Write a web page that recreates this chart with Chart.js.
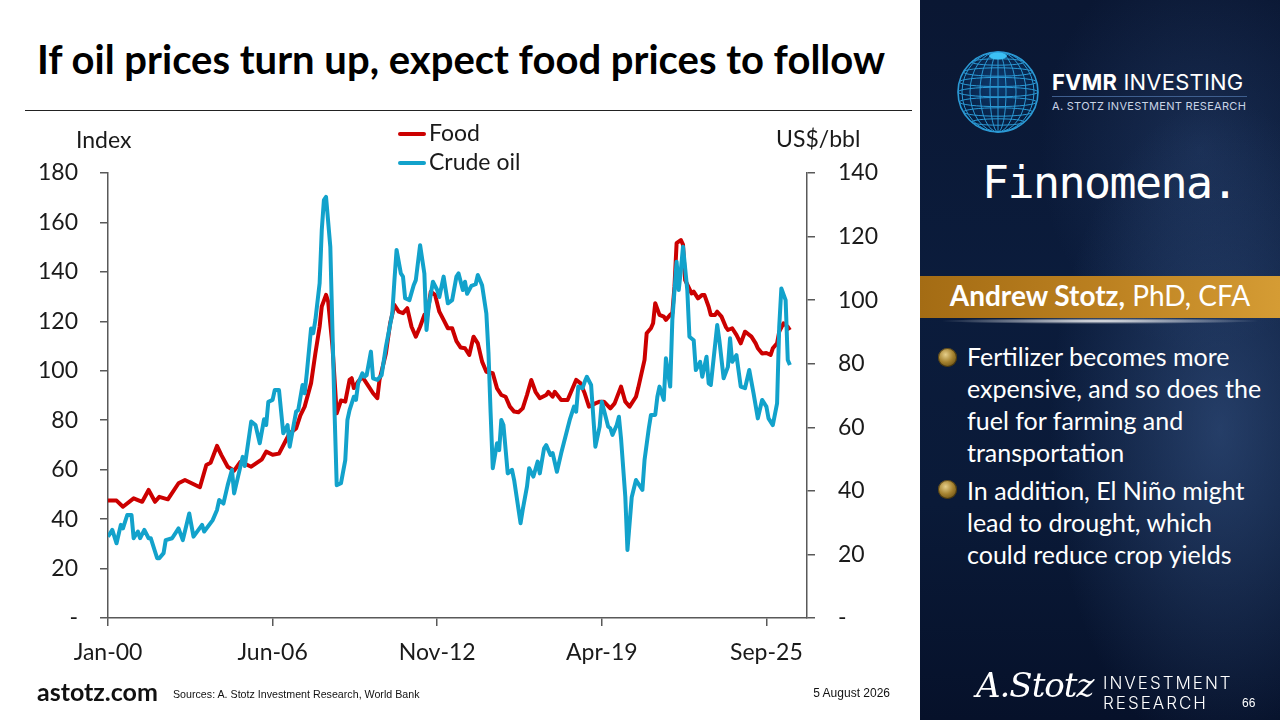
<!DOCTYPE html>
<html>
<head>
<meta charset="utf-8">
<script src="https://cdn.jsdelivr.net/npm/chart.js@4.4.0/dist/chart.umd.min.js"></script>
<style>
  body { margin: 0; width: 1280px; height: 720px; overflow: hidden; background: #fff; position: relative; font-family: Lato, sans-serif; }
  .abs { position: absolute; white-space: nowrap; line-height: 1; }
  #titolo { left: 37px; top: 39px; font-size: 40px; font-weight: 700; color: #000; }
  #riga { left: 25px; top: 110px; width: 887px; height: 1px; background: #222; }
  #grafico { position: absolute; left: 0; top: 100px; }
  .asse { font-size: 23px; color: #1a1a1a; }
  .leg { position: absolute; left: 398px; font-size: 23px; color: #1a1a1a; line-height: 1; white-space: nowrap; }
  .leg i { position: absolute; left: 0; width: 28px; height: 4px; border-radius: 2px; }
  .leg span { position: absolute; left: 31px; top: 0; }
  #footer-url { left: 37px; top: 679px; font-size: 25px; font-weight: 700; color: #111; }
  #fonti { left: 173px; top: 689px; font-size: 11px; color: #111; font-family: "Liberation Sans", sans-serif; transform: scaleX(0.97); transform-origin: 0 0; }
  #data { left: 790px; width: 100px; text-align: right; top: 687px; font-size: 12px; color: #111; font-family: "Liberation Sans", sans-serif; }

  #pannello { position: absolute; left: 920px; top: 0; width: 360px; height: 720px; overflow: hidden;
    background:
      radial-gradient(ellipse 170px 330px at 300px 430px, rgba(70,105,160,0.45), rgba(70,105,160,0) 100%),
      radial-gradient(ellipse 160px 200px at 280px 150px, rgba(50,80,130,0.35), rgba(50,80,130,0) 100%),
      linear-gradient(180deg, #0a1733 0%, #0b1c3c 40%, #0a1a38 70%, #06112a 100%); }
  #pannello .abs { color: #fff; }
  #fvmr { left: 132px; top: 71px; font-family: Inter, sans-serif; font-size: 22px; letter-spacing: 0.2px; }
  #fvmr b { font-weight: 700; }
  #fvmr-riga { left: 132px; top: 96px; width: 195px; height: 1px; background: #3f5f8f; }
  #fvmr-sub { left: 132px; top: 101px; font-family: Inter, sans-serif; font-size: 11px; letter-spacing: 0.3px; color: #c9d4e6 !important; }
  #finno { left: 62px; top: 160px; font-family: "DejaVu Sans Mono", monospace; font-size: 45px; letter-spacing: -1.6px; }
  #oro { left: 0; top: 276px; width: 360px; height: 42px;
    background: linear-gradient(90deg, #a46c14 0%, #bb8020 50%, #d59c34 100%); }
  #nome { left: 0; top: 281px; width: 360px; text-align: center; font-size: 28px; }
  #bagliore { left: 20px; top: 318px; width: 320px; height: 6px;
    background: radial-gradient(ellipse 50% 50% at 50% 50%, rgba(255,255,255,0.95), rgba(255,255,255,0) 100%); }
  .punto { position: absolute; left: 18px; width: 19px; height: 19px; border-radius: 50%;
    background: radial-gradient(circle at 40% 35%, #e6cf8a 0%, #a5822f 45%, #4a3608 100%);
    box-shadow: inset 0 0 0 1px rgba(40,30,5,0.6); }
  .testo { position: absolute; left: 47px; font-size: 25px; line-height: 32px; color: #fff; }
  #firma { left: 56px; top: 668px; font-family: "DejaVu Serif", serif; font-style: italic; font-size: 34px; font-weight: 300; letter-spacing: -1px; }
  #inv1 { left: 183px; top: 675px; font-family: Inter, sans-serif; font-weight: 300; font-size: 17px; letter-spacing: 2px; }
  #inv2 { left: 183px; top: 695px; font-family: Inter, sans-serif; font-weight: 300; font-size: 17px; letter-spacing: 2px; }
  #pagina { left: 322px; top: 697px; font-family: "Liberation Sans", sans-serif; font-size: 12px; }
</style>
</head>
<body>

<div id="titolo" class="abs">If oil prices turn up, expect food prices to follow</div>
<div id="riga" class="abs"></div>

<canvas id="grafico" width="920" height="590"></canvas>

<div class="abs asse" style="left:76px; top:128px;">Index</div>
<div class="abs asse" style="left:776px; top:127px;">US$/bbl</div>
<div id="legenda"></div>

<div id="footer-url" class="abs">astotz.com</div>
<div id="fonti" class="abs">Sources: A. Stotz Investment Research, World Bank</div>
<div id="data" class="abs">5 August 2026</div>

<div id="pannello">
  <svg id="globo" width="90" height="90" style="position:absolute; left:33px; top:47px;"></svg>
  <div id="fvmr" class="abs"><b>FVMR</b> INVESTING</div>
  <div id="fvmr-riga" class="abs"></div>
  <div id="fvmr-sub" class="abs">A. STOTZ INVESTMENT RESEARCH</div>
  <div id="finno" class="abs">Finnomena.</div>
  <div id="oro" class="abs"></div>
  <div id="nome" class="abs"><b>Andrew Stotz,</b> PhD, CFA</div>
  <div id="bagliore" class="abs"></div>
  <div class="punto" style="top:348px;"></div>
  <div class="testo" style="top:340px;">Fertilizer becomes more<br>expensive, and so does the<br>fuel for farming and<br>transportation</div>
  <div class="punto" style="top:480px;"></div>
  <div class="testo" style="top:474px;">In addition, El Niño might<br>lead to drought, which<br>could reduce crop yields</div>
  <div id="firma" class="abs">A.Stotz</div>
  <div id="inv1" class="abs">INVESTMENT</div>
  <div id="inv2" class="abs">RESEARCH</div>
  <div id="pagina" class="abs">66</div>
</div>

<script>
// months counted from Jan-2000 (0 = Jan-00)
var foodMonths = [
  0, 4, 7, 12, 16, 19, 22, 24, 28, 33,
  36, 43, 46, 48, 51, 53, 56, 59, 62, 67,
  72, 74, 77, 80, 83, 85, 88, 90, 92, 95,
  97, 99, 100, 102, 103, 105, 107, 109, 111, 113,
  114, 115, 117, 119, 122, 124, 126, 127, 130, 132,
  134, 136, 138, 140, 142, 144, 146, 148, 149, 151,
  153, 155, 157, 159, 161, 163, 165, 167, 169, 171,
  173, 175, 177, 180, 182, 184, 186, 188, 190, 192,
  194, 196, 198, 200, 202, 205, 206, 208, 209, 212,
  215, 217, 219, 221, 223, 225, 228, 230, 232, 235,
  237, 240, 242, 244, 247, 248, 251, 252, 254, 255,
  256, 258, 260, 261, 263, 264, 265, 266, 268, 269,
  270, 273, 274, 276, 278, 279, 281, 282, 284, 285,
  287, 289, 290, 292, 294, 296, 298, 299, 301, 303,
  304, 306, 308, 310, 311, 313, 314, 316, 318, 319
];
var foodValues = [
  47.5, 47.5, 45, 48.4, 47, 51.8, 47, 49, 48, 54.5,
  55.8, 52.9, 61.9, 62.8, 69.6, 66, 61.2, 59.6, 63.2, 61.2,
  64.2, 67.3, 66, 66.5, 71.5, 74.7, 76.7, 82, 85.5, 95,
  107, 117.8, 126, 130.7, 128, 110, 82.8, 88, 87.5, 96.3,
  97, 93, 95.6, 97.5, 93.6, 90.9, 88.9, 96.3, 107, 119.2,
  126.6, 123.9, 123.3, 125.3, 117.8, 113.8, 117.8, 122.6, 120.6, 132,
  130.7, 123.9, 120.6, 117.2, 117.2, 112, 109.4, 109.1, 106.4, 113.8,
  111.1, 103.7, 99.6, 99, 92.9, 90.2, 89.5, 85.5, 83.5, 83.2,
  84.8, 90.2, 96.3, 91.5, 88.9, 90.2, 91.5, 89.5, 91.5, 88.2,
  88.2, 92.2, 96.3, 95, 90.9, 85.5, 86.8, 87.5, 87.5, 84.8,
  86.8, 93.6, 87.5, 85.5, 89.5, 92.9, 104.4, 115.2, 117.2, 119.2,
  127.3, 122.6, 121.9, 120.6, 122.6, 123.3, 134, 151.6, 152.9, 151,
  136.7, 131.3, 132, 129.3, 130.7, 130.7, 125.9, 122.6, 122.6, 123.9,
  121.9, 117.8, 116.5, 117.2, 114.5, 111.1, 115.8, 115.2, 113.8, 111.1,
  109.1, 107, 107.2, 106.4, 109.1, 111.1, 115.8, 119.2, 117.8, 116.5
];

var oilMonths = [
  0, 2, 4, 6, 7, 9, 11, 12, 14, 15,
  17, 19, 20, 23, 24, 26, 27, 30, 33, 35,
  38, 40, 44, 45, 49, 51, 52, 54, 56, 58,
  59, 63, 64, 67, 69, 71, 73, 74, 75, 77,
  78, 80, 82, 84, 85, 88, 89, 91, 92, 93,
  95, 96, 97, 99, 100, 101, 102, 104, 105, 106,
  107, 109, 111, 112, 113, 115, 116, 117, 119, 120,
  121, 123, 124, 126, 128, 130, 133, 134, 135, 137,
  138, 139, 141, 143, 144, 146, 148, 149, 150, 152,
  154, 155, 157, 159, 161, 163, 164, 166, 167, 168,
  170, 172, 173, 175, 177, 178, 179, 180, 182, 183,
  184, 185, 187, 189, 190, 193, 194, 196, 197, 199,
  201, 202, 204, 205, 207, 208, 210, 212, 215, 216,
  218, 219, 220, 222, 223, 224, 226, 228, 230, 231,
  232, 234, 235, 236, 238, 239, 240, 242, 243, 245,
  247, 250, 251, 253, 254, 256, 257, 258, 260, 261,
  263, 264, 266, 267, 268, 269, 271, 272, 274, 275,
  277, 278, 280, 281, 282, 285, 286, 288, 290, 291,
  292, 294, 296, 298, 300, 302, 304, 306, 308, 309,
  311, 313, 314, 315, 317, 318, 319
];
var oilValues = [
  25.6, 27.7, 23.5, 29.3, 28.2, 32.4, 32.4, 25.1, 27.2, 25.1,
  27.7, 25.1, 25.1, 18.8, 18.8, 20.4, 24.5, 25.1, 28.2, 24.5,
  32.9, 25.6, 29.3, 27.2, 30.8, 34, 37.1, 36, 41.8, 46.6,
  39.2, 50.7, 47.8, 61.8, 60.7, 55, 62.5, 60.7, 68, 68.6,
  71.7, 71.7, 58.1, 60.7, 53.9, 64.9, 65.4, 73.3, 70.7, 77,
  91.1, 89.6, 93.7, 105.3, 122, 131.5, 132.5, 116.8, 90.6, 64.4,
  41.8, 42.4, 49.7, 62.3, 65.4, 69.6, 68.6, 73.8, 77, 75.9,
  76.4, 83.8, 75.4, 74.9, 76.4, 85.3, 95.8, 106.3, 115.8, 108.4,
  107.4, 100.6, 100, 104.7, 106.3, 117.3, 108.4, 90.6, 97.9, 105.8,
  103.2, 101, 107.4, 99, 100, 107.4, 108.4, 103.2, 105.8, 102,
  104.5, 105, 107.9, 104.7, 95.8, 83.3, 64.4, 47.1, 55, 52.8,
  62.3, 60.7, 45.5, 46.6, 43.4, 29.8, 34, 41.3, 47.1, 44.5,
  49.2, 45.5, 53.4, 54.4, 51.3, 51.9, 46, 51.8, 59.7, 62.3,
  66.5, 64.9, 72.8, 72.3, 74.3, 75.9, 73.3, 53.9, 60.2, 68,
  65.4, 60.2, 59.7, 57.6, 60.7, 63.3, 56.5, 38.2, 21.4, 38,
  43.4, 40.3, 49.7, 59.7, 63.9, 63.9, 69.6, 72.8, 68.6, 81.7,
  72.8, 93.7, 112.1, 103.2, 109.5, 116.8, 103.2, 88.5, 87.4, 78,
  80.6, 75.9, 82.2, 73.8, 73.3, 92.2, 87.4, 75.4, 79, 88,
  80.6, 82.7, 72.8, 72.3, 78, 70.7, 62.8, 68.6, 66.5, 62.8,
  60.7, 67.5, 91.6, 103.7, 100, 81.2, 79.6
];

var tickMonths = [0, 77, 154, 231, 308];
var tickLabels = ['Jan-00', 'Jun-06', 'Nov-12', 'Apr-19', 'Sep-25'];
var lastMonth = 327;

var foodColor = '#cc0000';
var oilColor = '#12a2cb';
var axisColor = '#595959';

function punti(mesi, valori) {
  return mesi.map(function (m, i) { return { x: m, y: valori[i] }; });
}

function zeroTrattino(v) {
  return v === 0 ? '-' : v;
}

function griglia() {
  return { drawOnChartArea: false, drawTicks: true, tickLength: 8, color: axisColor, lineWidth: 1.5 };
}

Chart.defaults.font.family = 'Lato, sans-serif';
Chart.defaults.font.size = 23;
Chart.defaults.color = '#1a1a1a';

var chart = new Chart(document.getElementById('grafico'), {
  type: 'line',
  data: {
    datasets: [{
      label: 'Food',
      data: punti(foodMonths, foodValues),
      borderColor: foodColor,
      backgroundColor: foodColor,
      borderWidth: 4,
      borderJoinStyle: 'round',
      pointRadius: 0,
      tension: 0,
      yAxisID: 'y',
      order: 1
    }, {
      label: 'Crude oil',
      data: punti(oilMonths, oilValues),
      borderColor: oilColor,
      backgroundColor: oilColor,
      borderWidth: 4,
      borderJoinStyle: 'round',
      pointRadius: 0,
      tension: 0,
      yAxisID: 'y1',
      order: 0
    }]
  },
  options: {
    responsive: false,
    animation: false,
    layout: { padding: { left: 28, right: 33, top: 73, bottom: 0 } },
    plugins: { legend: { display: false }, tooltip: { enabled: false } },
    scales: {
      x: {
        type: 'linear',
        min: 0,
        max: lastMonth,
        afterBuildTicks: function (scale) {
          scale.ticks = tickMonths.map(function (v) { return { value: v }; });
        },
        afterFit: function (scale) { scale.height = 72; },
        ticks: {
          autoSkip: false,
          maxRotation: 0,
          padding: 13,
          callback: function (v) {
            var i = tickMonths.indexOf(v);
            return i >= 0 ? tickLabels[i] : '';
          }
        },
        grid: griglia(),
        border: { display: true, color: axisColor, width: 1.5 }
      },
      y: {
        position: 'left',
        min: 0,
        max: 180,
        afterFit: function (scale) { scale.width = 80; },
        ticks: { stepSize: 20, padding: 22, callback: zeroTrattino },
        grid: griglia(),
        border: { display: true, color: axisColor, width: 1.5 }
      },
      y1: {
        position: 'right',
        min: 0,
        max: 140,
        afterFit: function (scale) { scale.width = 80; },
        ticks: { stepSize: 20, padding: 23, callback: zeroTrattino },
        grid: griglia(),
        border: { display: true, color: axisColor, width: 1.5 }
      }
    }
  }
});

// legend built from the chart's datasets
var legenda = document.getElementById('legenda');
var legTop = [121, 150];
chart.data.datasets.forEach(function (ds, i) {
  var riga = document.createElement('div');
  riga.className = 'leg';
  riga.style.top = legTop[i] + 'px';
  riga.innerHTML = '<i style="top:11px; background:' + ds.borderColor + '"></i><span>' + ds.label + '</span>';
  legenda.appendChild(riga);
});

// wireframe globe for the logo
var svg = document.getElementById('globo');
var defs = '<defs><radialGradient id="gg" cx="50%" cy="40%" r="60%">' +
  '<stop offset="0%" stop-color="#0d3a6e"/><stop offset="100%" stop-color="#061a3a"/></radialGradient></defs>';
var parti = [defs, '<circle cx="45" cy="45" r="40" fill="url(#gg)" stroke="#2b9ad6" stroke-width="1.6"/>'];
[-30, -20, -10, 0, 10, 20, 30].forEach(function (d) {
  var ry = Math.sqrt(1600 - d * d);
  parti.push('<ellipse cx="45" cy="' + (45 + d) + '" rx="' + ry.toFixed(1) + '" ry="' + (ry * 0.12).toFixed(1) + '" fill="none" stroke="#2b9ad6" stroke-width="1"/>');
});
[8, 18, 28, 36].forEach(function (rx) {
  parti.push('<ellipse cx="45" cy="45" rx="' + rx + '" ry="40" fill="none" stroke="#2b9ad6" stroke-width="1"/>');
});
parti.push('<line x1="45" y1="5" x2="45" y2="85" stroke="#2b9ad6" stroke-width="1"/>');
parti.push('<ellipse cx="45" cy="9" rx="9" ry="3.5" fill="#3cc0f5"/>');
svg.innerHTML = parti.join('');
</script>
</body>
</html>
